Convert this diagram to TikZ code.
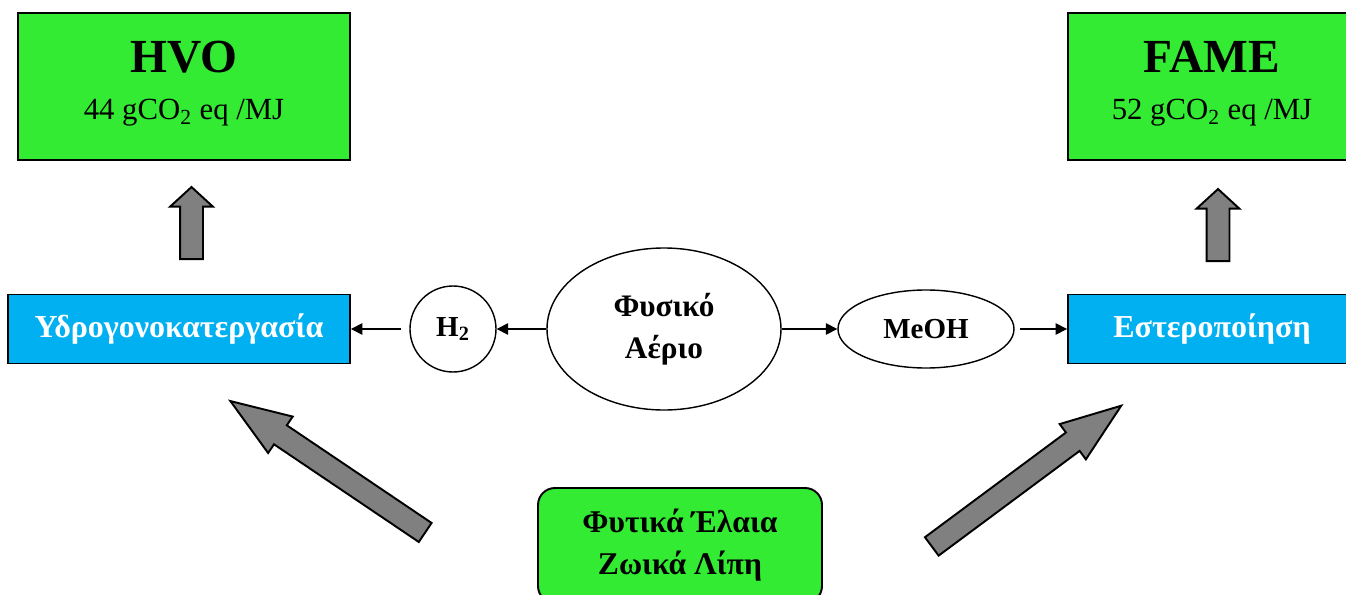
\documentclass[tikz,border=0pt]{standalone}
\usepackage{fontspec}
\setmainfont{Liberation Serif}
\usepackage{xcolor}
\usepackage{tikz}
\usetikzlibrary{shapes.geometric,shapes.arrows,arrows.meta}
\definecolor{boxgreen}{RGB}{51,235,51}
\definecolor{boxblue}{RGB}{0,176,240}
\definecolor{arrowgray}{RGB}{128,128,128}

\begin{document}
\begin{tikzpicture}[
    greenbox/.style={draw, line width=1.1pt, fill=boxgreen, align=center, inner sep=0pt},
    bluebox/.style={draw, line width=1.1pt, fill=boxblue, text=white, font=\fontsize{18.2}{22}\selectfont\bfseries, minimum height=1.38cm, inner sep=0pt},
    gasnode/.style={draw, line width=0.8pt, font=\fontsize{17.8}{24}\selectfont\bfseries, align=center, inner sep=0pt},
    flow/.style={-{Triangle[length=6.5pt,width=6.5pt]}, line width=0.9pt},
    bigarrow/.style={single arrow, draw, fill=arrowgray, line width=1.1pt, inner xsep=0pt, inner ysep=0.21cm, text height=0pt, text depth=0pt, anchor=tail}
]
    \clip (0,0) rectangle (26.92,11.88);

    % Products
    \node[greenbox, minimum width=6.64cm, minimum height=2.94cm, font=\fontsize{17.5}{27}\selectfont] (hvo) at (3.68,10.15)
        {{\fontsize{27}{27}\selectfont\bfseries HVO}\\44 gCO\textsubscript{2} eq /MJ\\[-0.7cm]};
    \node[greenbox, minimum width=5.76cm, minimum height=2.94cm, font=\fontsize{17.5}{27}\selectfont] (fame) at (24.24,10.15)
        {{\fontsize{27}{27}\selectfont\bfseries FAME}\\52 gCO\textsubscript{2} eq /MJ\\[-0.7cm]};

    % Processes
    \node[bluebox, minimum width=6.84cm] (hydro) at (3.58,5.3) {Υδρογονοκατεργασία};
    \node[bluebox, minimum width=5.76cm] (ester) at (24.24,5.3) {Εστεροποίηση};

    % Natural gas and its products
    \node[gasnode, circle, minimum size=1.72cm, font=\fontsize{16.5}{20}\selectfont\bfseries] (h2) at (9.06,5.3) {H\textsubscript{2}};
    \node[gasnode, ellipse, minimum width=4.68cm, minimum height=3.24cm] (gas) at (13.28,5.3) {Φυσικό\\Αέριο};
    \node[gasnode, ellipse, minimum width=3.52cm, minimum height=1.56cm, font=\fontsize{16.5}{20}\selectfont\bfseries] (meoh) at (18.52,5.3) {MeOH};

    \draw[flow] (gas) -- (h2);
    \draw[flow, shorten <=0.16cm] (h2) -- (hydro);
    \draw[flow] (gas) -- (meoh);
    \draw[flow, shorten <=0.1cm] (meoh) -- (ester);

    % Feedstock
    \node[greenbox, rounded corners=0.34cm, minimum width=5.68cm, minimum height=2.3cm, font=\fontsize{18}{24}\selectfont\bfseries] (oils) at (13.6,0.97)
        {Φυτικά Έλαια\\Ζωικά Λίπη};

    % Block arrows
    \node[bigarrow, minimum height=1.44cm, minimum width=0.82cm, single arrow head extend=0.2cm, single arrow tip angle=95, rotate=90] (uphvo) at (3.83,6.68) {};
    \node[bigarrow, minimum height=1.44cm, minimum width=0.82cm, single arrow head extend=0.2cm, single arrow tip angle=95, rotate=90] (upfame) at (24.36,6.64) {};
    \node[bigarrow, minimum height=4.7cm, minimum width=0.84cm, single arrow head extend=0.21cm, single arrow tip angle=40, rotate=146] (tohydro) at (8.52,1.22) {};
    \node[bigarrow, minimum height=4.72cm, minimum width=0.84cm, single arrow head extend=0.21cm, single arrow tip angle=40, rotate=36.6] (toester) at (18.62,0.94) {};
\end{tikzpicture}
\end{document}
